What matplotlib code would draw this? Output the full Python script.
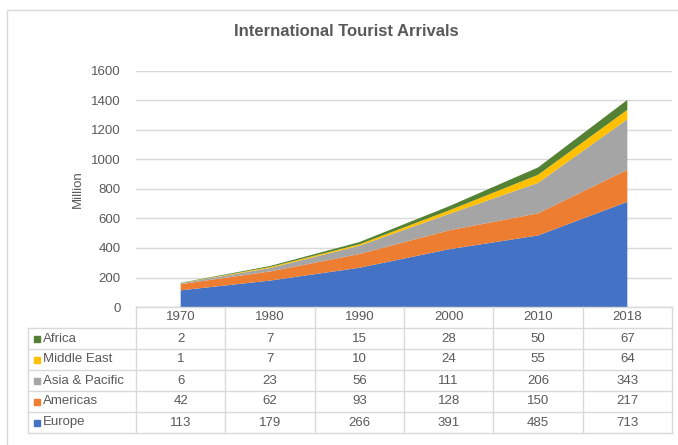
import matplotlib.pyplot as plt
from matplotlib.patches import Rectangle

years = ["1970", "1980", "1990", "2000", "2010", "2018"]
europe = [113, 179, 266, 391, 485, 713]
americas = [42, 62, 93, 128, 150, 217]
asia_pacific = [6, 23, 56, 111, 206, 343]
middle_east = [1, 7, 10, 24, 55, 64]
africa = [2, 7, 15, 28, 50, 67]

series_names = ["Europe", "Americas", "Asia & Pacific", "Middle East", "Africa"]
series_values = [europe, americas, asia_pacific, middle_east, africa]
colors = ["#4472C4", "#ED7D31", "#A5A5A5", "#FFC000", "#548235"]

text_color = "#595959"
line_color = "#D9D9D9"
plt.rcParams['font.family'] = ['Liberation Sans', 'DejaVu Sans']

W, H = 678, 445
fig = plt.figure(figsize=(W / 100, H / 100), dpi=100)

# chart border
fig.patches.append(Rectangle((7 / W, -0.05), 1.1, 1 - 10 / H + 0.05, transform=fig.transFigure,
                             fill=False, edgecolor="#D9D9D9", linewidth=1))

left_px, right_px, top_px, base_px, bottom_px = 136, 672, 71, 307, 433
ax = fig.add_axes([left_px / W, (H - base_px) / H, (right_px - left_px) / W, (base_px - top_px) / H])

x = list(range(len(years)))
ax.stackplot(x, *series_values, colors=colors, linewidth=0, zorder=2)
ax.set_xlim(-0.5, len(years) - 0.5)
ax.set_ylim(0, 1600)
ax.set_yticks(range(0, 1601, 200))
ax.yaxis.grid(True, color=line_color, linewidth=1, zorder=0)
ax.set_axisbelow(True)
ax.tick_params(axis='y', length=0, pad=11, labelsize=9.5, labelcolor=text_color)
ax.set_xticks([])
for s in ax.spines.values():
    s.set_visible(False)
ax.set_ylabel("Million", fontsize=9.5, color=text_color, labelpad=5)

fig.text(346 / W, 1 - 32 / H, "International Tourist Arrivals", ha='center', va='center',
         fontsize=12, fontweight='bold', color=text_color)

# data table below the plot
unit = (right_px - left_px) / len(years)
table_left = 28
xl = -0.5 - (left_px - table_left) / unit
tax = fig.add_axes([table_left / W, (H - bottom_px) / H, (right_px - table_left) / W, (bottom_px - base_px) / H])
nrows = len(series_names) + 1
tax.set_xlim(xl, len(years) - 0.5)
tax.set_ylim(nrows, 0)
tax.axis('off')

lw = 1
# horizontal lines
tax.plot([-0.5, len(years) - 0.5], [0, 0], color=line_color, lw=lw, clip_on=False)
for r in range(1, nrows + 1):
    tax.plot([xl, len(years) - 0.5], [r, r], color=line_color, lw=lw, clip_on=False)
# vertical lines
tax.plot([xl, xl], [1, nrows], color=line_color, lw=lw, clip_on=False)
for c in range(len(years) + 1):
    tax.plot([c - 0.5, c - 0.5], [0, nrows], color=line_color, lw=lw, clip_on=False)

for i, yr in enumerate(years):
    tax.text(i, 0.5, yr, ha='center', va='center', fontsize=9.5, color=text_color)

rows = list(zip(series_names, series_values, colors))[::-1]
for r, (name, vals, col) in enumerate(rows, start=1):
    tax.plot(xl + 0.1, r + 0.5, marker='s', markersize=5, color=col, clip_on=False)
    tax.text(xl + 0.17, r + 0.5, name, ha='left', va='center', fontsize=9.5, color=text_color)
    for i, v in enumerate(vals):
        tax.text(i, r + 0.5, str(v), ha='center', va='center', fontsize=9.5, color=text_color)

fig.savefig("out.png", dpi=100)
